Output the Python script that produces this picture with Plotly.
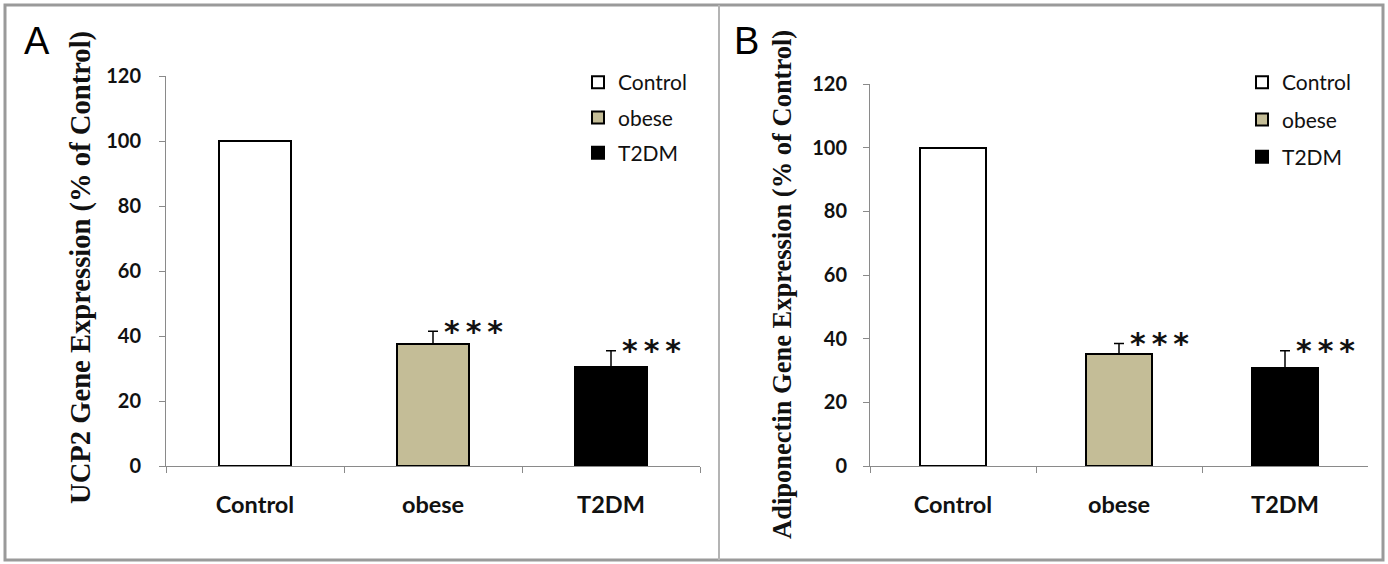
import plotly.graph_objects as go

W, H = 1388, 564

categories = ["Control", "obese", "T2DM"]
colors = ["#FFFFFF", "#C4BD97", "#000000"]

ucp2_values = [100, 37.5, 30.5]
ucp2_err = [0, 4.0, 5.0]

adipo_values = [100, 35.2, 30.8]
adipo_err = [0, 3.3, 5.4]

stars = ["", "*\u2009*\u2009*", "*\u2009*\u2009*"]
y_ticks = [0, 20, 40, 60, 80, 100, 120]

def px(x):
    return x / W

def py(y):
    return 1 - y / H

fig = go.Figure()

panels = [
    dict(values=ucp2_values, err=ucp2_err, xa="x", ya="y", legend="legend"),
    dict(values=adipo_values, err=adipo_err, xa="x2", ya="y2", legend="legend2"),
]

for p in panels:
    for i, cat in enumerate(categories):
        fig.add_trace(go.Bar(
            x=[cat], y=[p["values"][i]], name=cat,
            xaxis=p["xa"], yaxis=p["ya"], legend=p["legend"],
            legendgroup=p["legend"] + cat,
            width=0.4,
            marker=dict(color=colors[i], line=dict(color="#000000", width=2)),
            error_y=dict(type="data", symmetric=False, array=[p["err"][i]],
                         arrayminus=[0], visible=p["err"][i] > 0,
                         color="#000000", thickness=1.5, width=5),
        ))
    for i, cat in enumerate(categories):
        if stars[i]:
            fig.add_annotation(
                x=cat, y=p["values"][i] + p["err"][i], xref=p["xa"], yref=p["ya"],
                text=stars[i], showarrow=False, xanchor="left", yanchor="middle",
                xshift=9, yshift=0,
                font=dict(family="DejaVu Sans", size=30, color="#111111", weight="bold"))

axis_common = dict(showline=True, linecolor="#8a8a8a", linewidth=1,
                   ticks="outside", tickcolor="#8a8a8a", ticklen=6,
                   showgrid=False, zeroline=False, automargin=False)
x_font = dict(family="Lato", size=23.5, color="#111111", weight="bold")
y_font = dict(family="Lato", size=20, color="#111111", weight="bold")
leg_font = dict(family="Lato", size=21, color="#111111")

fig.update_layout(
    template="none",
    width=W, height=H,
    margin=dict(l=0, r=0, t=0, b=0, pad=0, autoexpand=False),
    paper_bgcolor="white", plot_bgcolor="white",
    barmode="overlay", bargap=0,
    showlegend=True,
    xaxis=dict(domain=[px(166), px(700)], anchor="y", type="category",
               tickson="boundaries", categoryorder="array", categoryarray=categories,
               ticklabelstandoff=18, tickfont=x_font, **axis_common),
    yaxis=dict(domain=[py(466), py(76)], anchor="x", range=[0, 120],
               tickvals=y_ticks, ticklabelstandoff=14, tickfont=y_font, **axis_common),
    xaxis2=dict(domain=[px(870), px(1368)], anchor="y2", type="category",
                tickson="boundaries", categoryorder="array", categoryarray=categories,
                ticklabelstandoff=18, tickfont=x_font, **axis_common),
    yaxis2=dict(domain=[py(466), py(84)], anchor="x2", range=[0, 120],
                tickvals=y_ticks, ticklabelstandoff=12, tickfont=y_font, **axis_common),
    legend=dict(x=px(578), y=py(62), xanchor="left", yanchor="top",
                font=leg_font, tracegroupgap=5, bgcolor="rgba(0,0,0,0)",
                borderwidth=0, itemclick=False),
    legend2=dict(x=px(1242), y=py(62), xanchor="left", yanchor="top",
                 font=leg_font, tracegroupgap=7, bgcolor="rgba(0,0,0,0)",
                 borderwidth=0, itemclick=False),
)

# Panel titles and letters
fig.add_annotation(x=px(81), y=py(268), xref="paper", yref="paper",
                   text="<b>UCP2 Gene Expression (% of Control)</b>", textangle=-90,
                   showarrow=False, xanchor="center", yanchor="middle",
                   font=dict(family="Liberation Serif", size=28.6, color="#111111"))
fig.add_annotation(x=px(782), y=py(285), xref="paper", yref="paper",
                   text="<b>Adiponectin Gene Expression (% of Control)</b>", textangle=-90,
                   showarrow=False, xanchor="center", yanchor="middle",
                   font=dict(family="Liberation Serif", size=26.5, color="#111111"))
fig.add_annotation(x=px(37), y=py(41), xref="paper", yref="paper", text="A",
                   showarrow=False, xanchor="center", yanchor="middle",
                   font=dict(family="Liberation Sans", size=38, color="#000000"))
fig.add_annotation(x=px(747), y=py(41), xref="paper", yref="paper", text="B",
                   showarrow=False, xanchor="center", yanchor="middle",
                   font=dict(family="Liberation Sans", size=38, color="#000000"))

# Frame
fig.add_shape(type="rect", xref="paper", yref="paper",
              x0=px(5), x1=px(1383), y0=py(560), y1=py(5),
              line=dict(color="#9a9a9a", width=3))
fig.add_shape(type="line", xref="paper", yref="paper",
              x0=px(719), x1=px(719), y0=py(560), y1=py(5),
              line=dict(color="#b4b4b4", width=2))

fig.write_html("out.html", config={"displayModeBar": False},
               post_script="document.body.style.margin='0px';")
